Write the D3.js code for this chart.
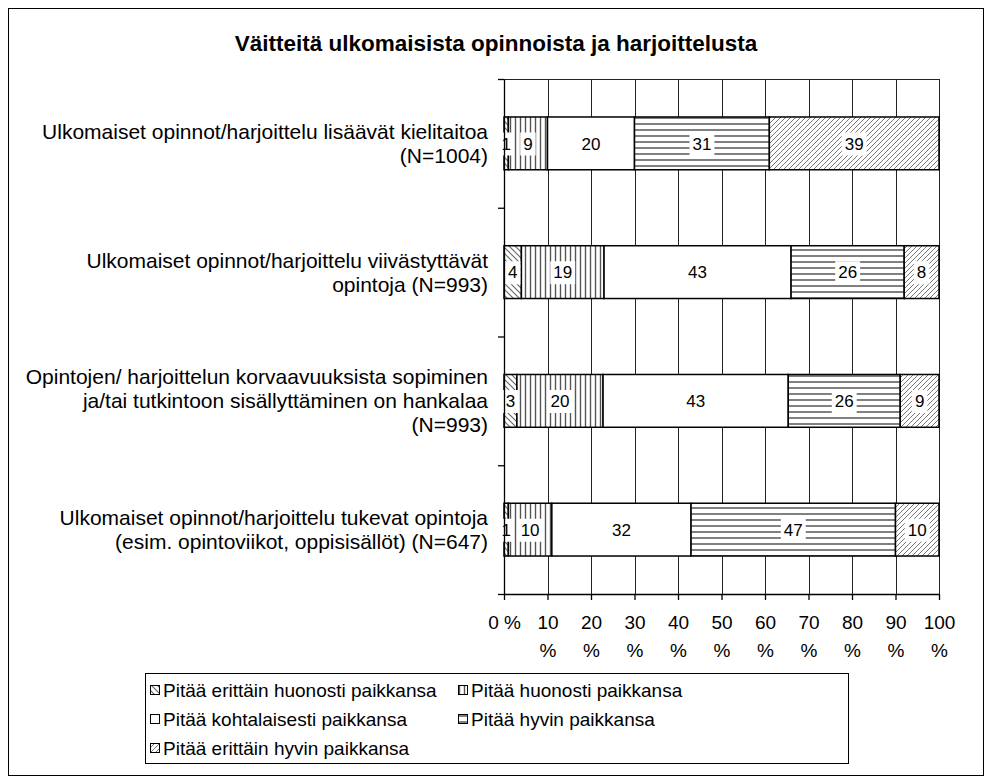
<!DOCTYPE html>
<meta charset="utf-8">
<body style="margin:0">
<style>
    body { background: #fff; }
    text { font-family: "Liberation Sans", Arial, sans-serif; fill: #000; }
</style>
<script src="https://d3js.org/d3.v7.min.js"></script>
<script>
// chart data
var title = "Väitteitä ulkomaisista opinnoista ja harjoittelusta";

var categories = [
    ["Ulkomaiset opinnot/harjoittelu lisäävät kielitaitoa", "(N=1004)"],
    ["Ulkomaiset opinnot/harjoittelu viivästyttävät", "opintoja (N=993)"],
    ["Opintojen/ harjoittelun korvaavuuksista sopiminen", "ja/tai tutkintoon sisällyttäminen on hankalaa", "(N=993)"],
    ["Ulkomaiset opinnot/harjoittelu tukevat opintoja", "(esim. opintoviikot, oppisisällöt) (N=647)"]
];

var seriesNames = [
    "Pitää erittäin huonosti paikkansa",
    "Pitää huonosti paikkansa",
    "Pitää kohtalaisesti paikkansa",
    "Pitää hyvin paikkansa",
    "Pitää erittäin hyvin paikkansa"
];

// one array per series, one value per category (percent)
var erittainHuonosti = [1, 4, 3, 1];
var huonosti         = [9, 19, 20, 10];
var kohtalaisesti    = [20, 43, 43, 32];
var hyvin            = [31, 26, 26, 47];
var erittainHyvin    = [39, 8, 9, 10];

var tickValues = [0, 10, 20, 30, 40, 50, 60, 70, 80, 90, 100];

var seriesValues = [erittainHuonosti, huonosti, kohtalaisesti, hyvin, erittainHyvin];

// layout
var margin = {top: 79, left: 504, right: 53, bottom: 190};
var width = 992 - margin.left - margin.right,
    height = 784 - margin.top - margin.bottom;

var svg = d3.select("body").append("svg")
    .attr("width", 992)
    .attr("height", 784);

// hatch patterns (excel style)
var defs = svg.append("defs");
function hatch(id, size, d, color, sw) {
    var p = defs.append("pattern")
        .attr("id", id)
        .attr("patternUnits", "userSpaceOnUse")
        .attr("width", size).attr("height", size);
    p.append("rect").attr("width", size).attr("height", size).attr("fill", "#fff");
    if (d) p.append("path").attr("d", d).attr("stroke", color)
        .attr("stroke-width", sw).attr("fill", "none");
}
hatch("p0", 6, "M-1,-1 L7,7 M-1,5 L1,7 M5,-1 L7,1", "#666", 1.1);
hatch("p1", 5, "M1.5,0 V5", "#555", 1.4);
hatch("p2", 5, null);
hatch("p3", 6, "M0,3 H6", "#555", 1.5);
hatch("p4", 5, "M-1,1 L1,-1 M0,5 L5,0 M4,6 L6,4", "#777", 1);
var fills = ["url(#p0)", "url(#p1)", "url(#p2)", "url(#p3)", "url(#p4)"];

svg.append("rect")
    .attr("x", 8.5).attr("y", 8.5)
    .attr("width", 975).attr("height", 767)
    .attr("fill", "#fff").attr("stroke", "#000");

svg.append("text")
    .attr("x", 496).attr("y", 51)
    .attr("text-anchor", "middle")
    .style("font-size", "22.5px").style("font-weight", "bold")
    .text(title);

var g = svg.append("g")
    .attr("transform", "translate(" + margin.left + "," + margin.top + ")");

var x = d3.scaleLinear().domain([0, 100]).range([0, width]);
var y = d3.scaleBand()
    .domain(d3.range(categories.length))
    .range([0, height])
    .paddingInner(0.59).paddingOuter(0.295);

// vertical gridlines
g.selectAll(".grid").data(tickValues).enter().append("line")
    .attr("x1", function(d) { return Math.round(x(d)) + 0.5; })
    .attr("x2", function(d) { return Math.round(x(d)) + 0.5; })
    .attr("y1", 0).attr("y2", height)
    .attr("stroke", "#222").attr("stroke-width", 1);
g.append("line")
    .attr("x1", -6).attr("x2", width)
    .attr("y1", 0.5).attr("y2", 0.5)
    .attr("stroke", "#222");

// stacked data, 100% normalised per row
var rows = categories.map(function(c, i) {
    var total = d3.sum(seriesValues, function(s) { return s[i]; });
    var acc = 0;
    return seriesValues.map(function(s, k) {
        var v = s[i] / total * 100;
        var seg = {row: i, k: k, x0: acc, x1: acc + v, label: s[i]};
        acc += v;
        return seg;
    });
});

var bars = g.selectAll(".row").data(rows).enter().append("g");
bars.selectAll("rect").data(function(d) { return d; }).enter().append("rect")
    .attr("x", function(d) { return x(d.x0); })
    .attr("y", function(d) { return y(d.row); })
    .attr("width", function(d) { return x(d.x1) - x(d.x0); })
    .attr("height", y.bandwidth())
    .attr("fill", function(d) { return fills[d.k]; })
    .attr("stroke", "#000").attr("stroke-width", 1.5);

// value labels with white boxes
var lab = bars.selectAll(".lab").data(function(d) { return d; }).enter().append("g")
    .attr("transform", function(d) {
        return "translate(" + ((x(d.x0) + x(d.x1)) / 2) + "," + (y(d.row) + y.bandwidth() / 2) + ")";
    });
lab.append("text")
    .attr("text-anchor", "middle")
    .attr("dy", "0.36em")
    .style("font-size", "17px")
    .text(function(d) { return d.label; })
    .each(function() {
        var b = this.getBBox();
        d3.select(this.parentNode).insert("rect", "text")
            .attr("x", b.x - 3).attr("y", b.y - 2)
            .attr("width", b.width + 6).attr("height", b.height + 4)
            .attr("fill", "#fff");
    });

// left axis with ticks on band boundaries
var yb = d3.scaleLinear().domain([0, categories.length]).range([0, height]);
g.append("g")
    .call(d3.axisLeft(yb).ticks(categories.length).tickSize(6).tickSizeOuter(0).tickFormat(""))
    .call(function(a) { a.selectAll("line,path").attr("stroke", "#000").attr("stroke-width", 1.3); });

// bottom axis
var xa = g.append("g")
    .attr("transform", "translate(0," + height + ")")
    .call(d3.axisBottom(x).tickValues(tickValues).tickSize(6).tickSizeOuter(0).tickFormat(""));
xa.selectAll("line,path").attr("stroke", "#000").attr("stroke-width", 1.3);
xa.selectAll(".tick").append("text")
    .attr("text-anchor", "middle")
    .style("font-size", "19px")
    .each(function(d) {
        var t = d3.select(this);
        if (d === 0) {
            t.append("tspan").attr("x", 0).attr("y", 35).text("0 %");
        } else {
            t.append("tspan").attr("x", 0).attr("y", 35).text(d);
            t.append("tspan").attr("x", 0).attr("y", 63).text("%");
        }
    });

// category labels
g.selectAll(".cat").data(categories).enter().append("text")
    .attr("text-anchor", "end")
    .style("font-size", "21px")
    .each(function(lines, i) {
        var cy = y(i) + y.bandwidth() / 2;
        var t = d3.select(this);
        lines.forEach(function(l, j) {
            t.append("tspan")
                .attr("x", -16)
                .attr("y", cy + (j - (lines.length - 1) / 2) * 24)
                .attr("dy", "0.36em")
                .text(l);
        });
    });

// legend
var legend = svg.append("g").attr("transform", "translate(145,673)");
legend.append("rect")
    .attr("x", 0.5).attr("y", 0.5).attr("width", 703).attr("height", 90)
    .attr("fill", "#fff").attr("stroke", "#000");
var li = legend.selectAll(".li").data(seriesNames).enter().append("g")
    .attr("transform", function(d, i) {
        return "translate(" + (i % 2 ? 313 : 5) + "," + (17 + Math.floor(i / 2) * 29) + ")";
    });
li.append("rect")
    .attr("x", 0.5).attr("y", -4.5).attr("width", 9).attr("height", 9)
    .attr("fill", function(d, i) { return fills[i]; })
    .attr("stroke", "#000");
li.append("text")
    .attr("x", 13).attr("dy", "0.36em")
    .style("font-size", "19px")
    .text(function(d) { return d; });
</script>
